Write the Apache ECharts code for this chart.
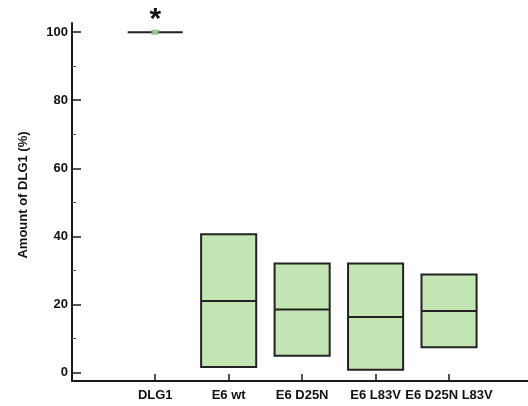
<!DOCTYPE html>
<html>
<head>
<meta charset="utf-8">
<script src="https://cdn.jsdelivr.net/npm/echarts@6/dist/echarts.min.js"></script>
<style>html,body{margin:0;padding:0;background:#fff}#c{width:528px;height:406px}</style>
</head>
<body>
<div id="c"></div>
<script>
const categories = ['DLG1', 'E6 wt', 'E6 D25N', 'E6 L83V', 'E6 D25N L83V'];
const minValues = [100, 1.6, 4.9, 0.8, 7.4];
const medianValues = [100, 21.0, 18.5, 16.3, 18.1];
const maxValues = [100, 40.6, 32.0, 32.0, 28.8];
const significance = ['*', '', '', '', ''];
const yTicks = [0, 20, 40, 60, 80, 100];
const yMinorTicks = [10, 30, 50, 70, 90];
const xPositions = [1, 2, 3, 4, 5];

const boxData = categories.map((c, i) => [xPositions[i], minValues[i], medianValues[i], maxValues[i], i]);

const chart = echarts.init(document.getElementById('c'), null, {renderer: 'canvas'});
const axisColor = '#1a1a1a';
const font = 'Liberation Sans, Arial, sans-serif';

chart.setOption({
  animation: false,
  grid: {left: 72, right: 0, top: 23, bottom: 25, containLabel: false},
  xAxis: {
    type: 'value', min: -0.133, max: 6.075,
    splitLine: {show: false},
    axisLine: {show: true, onZero: false, lineStyle: {color: axisColor, width: 2}},
    axisTick: {show: true, inside: true, length: 7, lineStyle: {color: axisColor, width: 1.5}, customValues: xPositions},
    axisLabel: {
      customValues: xPositions, margin: 8,
      formatter: v => categories[Math.round(v) - 1] || '',
      color: '#111', fontWeight: 'bold', fontSize: 13, fontFamily: font
    }
  },
  yAxis: [{
    type: 'value', min: -2.5, max: 102.7,
    name: 'Amount of DLG1 (%)', nameLocation: 'middle', nameGap: 42,
    nameTextStyle: {color: '#111', fontWeight: 'bold', fontSize: 13, fontFamily: font, padding: [0, 0, 0, 14]},
    splitLine: {show: false},
    axisLine: {show: true, onZero: false, lineStyle: {color: axisColor, width: 2}},
    axisTick: {show: true, inside: true, length: 9, lineStyle: {color: axisColor, width: 1.5}, customValues: yTicks},
    axisLabel: {customValues: yTicks, margin: 4, color: '#111', fontWeight: 'bold', fontSize: 13, fontFamily: font}
  }, {
    type: 'value', min: -2.5, max: 102.7, position: 'left', offset: 0,
    splitLine: {show: false},
    axisLine: {show: false, onZero: false},
    axisTick: {show: true, inside: true, length: 4, lineStyle: {color: '#555', width: 1}, customValues: yMinorTicks},
    axisLabel: {show: false}
  }],
  series: [{
    type: 'custom',
    data: boxData,
    encode: {x: 0, y: [1, 2, 3]},
    renderItem: function (params, api) {
      const x = api.value(0);
      const lo = api.value(1), med = api.value(2), hi = api.value(3);
      const idx = api.value(4);
      const half = 0.375;
      const pTL = api.coord([x - half, hi]);
      const pBR = api.coord([x + half, lo]);
      const pML = api.coord([x - half, med]);
      const pMR = api.coord([x + half, med]);
      const children = [];
      if (hi - lo > 0) {
        children.push({
          type: 'rect',
          shape: {x: pTL[0], y: pTL[1], width: pBR[0] - pTL[0], height: pBR[1] - pTL[1]},
          style: {fill: '#c3e5b3', stroke: '#222', lineWidth: 2}
        });
      }
      children.push({
        type: 'line',
        shape: {x1: pML[0], y1: pML[1], x2: pMR[0], y2: pMR[1]},
        style: {stroke: '#222', lineWidth: 2}
      });
      const sig = significance[idx];
      if (sig) {
        const top = api.coord([x, hi]);
        children.push({
          type: 'text',
          style: {text: sig, x: top[0], y: top[1] - 12, align: 'center', verticalAlign: 'middle',
            fill: '#111', font: 'bold 30px ' + font}
        });
      }
      return {type: 'group', children: children};
    }
  }, {
    type: 'scatter',
    data: [[xPositions[0], maxValues[0]]],
    symbol: 'roundRect', symbolSize: [7, 4],
    itemStyle: {color: '#b9e0a4', borderColor: '#5f8f55', borderWidth: 1},
    z: 5
  }]
});
</script>
</body>
</html>
